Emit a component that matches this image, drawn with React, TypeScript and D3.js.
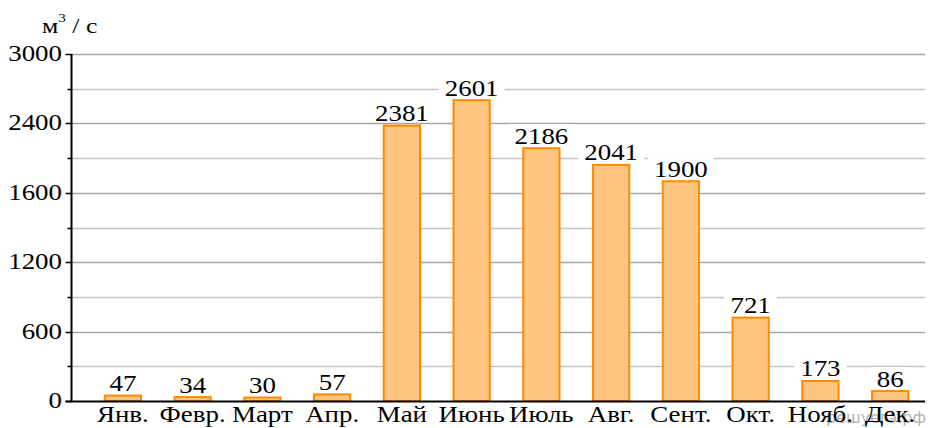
import React from "react";
import * as d3 from "d3";

const months = ["Янв.", "Февр.", "Март", "Апр.", "Май", "Июнь", "Июль", "Авг.", "Сент.", "Окт.", "Нояб.", "Дек."];
const values = [47, 34, 30, 57, 2381, 2601, 2186, 2041, 1900, 721, 173, 86];
const majorTicks = [0, 600, 1200, 1800, 2400, 3000];
const majorTickLabels = ["0", "600", "1200", "1600", "2400", "3000"];
const minorTicks = [300, 900, 1500, 2100, 2700];

const W = 935;
const H = 428;
const AX = 71.5;
const RIGHT = 925;
const TOP = 54;
const BASE = 401;
const FONT = "'Liberation Serif', serif";
const SX = 1.17;
const FS = 23;

function T(props: { x: number; y: number; anchor?: string; size?: number; children: React.ReactNode }) {
  const { x, y, anchor = "middle", size = FS, children } = props;
  return (
    <text
      transform={`translate(${x},${y}) scale(${SX},1)`}
      textAnchor={anchor}
      style={{ fontFamily: FONT }}
      fontSize={size}
      fill="#000"
    >
      {children}
    </text>
  );
}

export default function App() {
  const y = d3.scaleLinear().domain([0, 3000]).range([BASE, TOP]);
  const x = d3.scaleBand<string>().domain(months).range([88, RIGHT]).paddingInner(0.48).paddingOuter(0.24);
  const bw = x.bandwidth();
  const py = (v: number) => Math.round(y(v)) + 0.5;

  return (
    <svg width={W} height={H} style={{ position: "absolute", left: 0, top: 0, background: "#fff" }}>
      <rect x={0} y={0} width={W} height={H} fill="#fff" />
      {minorTicks.map((t) => (
        <g key={"mi" + t}>
          <line x1={AX} x2={RIGHT} y1={py(t)} y2={py(t)} stroke="#c4c4c4" strokeWidth={1.5} />
          <line x1={AX - 4} x2={AX} y1={py(t)} y2={py(t)} stroke="#000" strokeWidth={1.5} />
        </g>
      ))}
      {majorTicks.map((t, i) => (
        <g key={"ma" + t}>
          {t !== 0 && <line x1={AX} x2={RIGHT} y1={py(t)} y2={py(t)} stroke="#a6a6a6" strokeWidth={1.5} />}
          <line x1={AX - 6} x2={AX} y1={py(t)} y2={py(t)} stroke="#000" strokeWidth={1.5} />
          <T x={62} y={y(t) + 7} anchor="end">
            {majorTickLabels[i]}
          </T>
        </g>
      ))}
      <text x={826} y={423} style={{ fontFamily: "'DejaVu Sans', sans-serif" }} fontSize={16} fill="#b4b4b4">
        решуегэ.рф
      </text>
      {months.map((m, i) => (
        <rect
          key={"b" + m}
          x={x(m) as number}
          y={y(values[i])}
          width={bw}
          height={BASE - y(values[i])}
          fill="#FFC47F"
          stroke="#FF8C00"
          strokeWidth={2}
        />
      ))}
      {months.map((m, i) => {
        const cx = (x(m) as number) + bw / 2;
        const label = String(values[i]);
        const tw = label.length * 13.5 + 12;
        return (
          <g key={"v" + m}>
            <rect x={cx - tw / 2} y={y(values[i]) - 24} width={tw} height={19} fill="#fff" />
            <T x={cx} y={y(values[i]) - 4.5}>{label}</T>
          </g>
        );
      })}
      <line x1={AX} x2={AX} y1={TOP} y2={BASE + 1} stroke="#000" strokeWidth={2} />
      <line x1={AX - 6} x2={RIGHT} y1={BASE + 0.5} y2={BASE + 0.5} stroke="#000" strokeWidth={2} />
      {months.map((m) => (
        <T key={"c" + m} x={(x(m) as number) + bw / 2} y={422}>
          {m}
        </T>
      ))}
      <text transform={`translate(42,33) scale(${SX},1)`} style={{ fontFamily: FONT }} fontSize={22} fill="#000">
        м
        <tspan fontSize={13} dy={-11}>3</tspan>
        <tspan dy={11}>{"\u00a0/ с"}</tspan>
      </text>
    </svg>
  );
}
